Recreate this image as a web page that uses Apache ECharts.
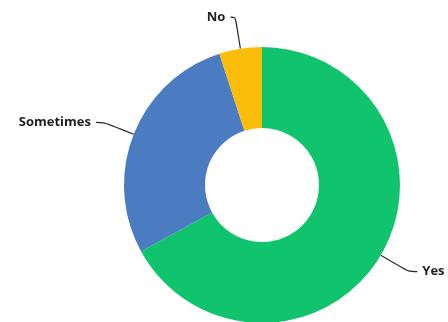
<!DOCTYPE html>
<html>
<head>
<meta charset="utf-8">
<script src="https://cdn.jsdelivr.net/npm/echarts@6/dist/echarts.min.js"></script>
<style>
html,body{margin:0;padding:0;background:#fff;}
#chart{width:448px;height:322px;}
</style>
</head>
<body>
<div id="chart"></div>
<script>
const categories = ['Yes', 'Sometimes', 'No'];
const values = [67, 28, 5];
const colors = ['#10c46e', '#4b7bc0', '#fbbd0a'];
const lineLen2 = [9, 8, 5];

const chart = echarts.init(document.getElementById('chart'), null, {renderer: 'canvas'});
chart.setOption({
  animation: false,
  backgroundColor: '#ffffff',
  series: [{
    type: 'pie',
    center: [262, 185],
    radius: [57, 138],
    startAngle: 90,
    clockwise: true,
    avoidLabelOverlap: false,
    data: categories.map((c, i) => ({
      name: c,
      value: values[i],
      itemStyle: {color: colors[i]},
      labelLine: {length2: lineLen2[i]}
    })),
    label: {
      show: true,
      position: 'outside',
      formatter: '{b}',
      color: '#1e1e1e',
      fontFamily: 'Open Sans',
      fontWeight: 'bold',
      fontSize: 13,
      distanceToLabelLine: 5
    },
    labelLine: {
      show: true,
      length: 32,
      smooth: 0.3,
      lineStyle: {color: '#2a2a2a', width: 1.2}
    },
    itemStyle: {borderWidth: 0}
  }]
});
</script>
</body>
</html>
